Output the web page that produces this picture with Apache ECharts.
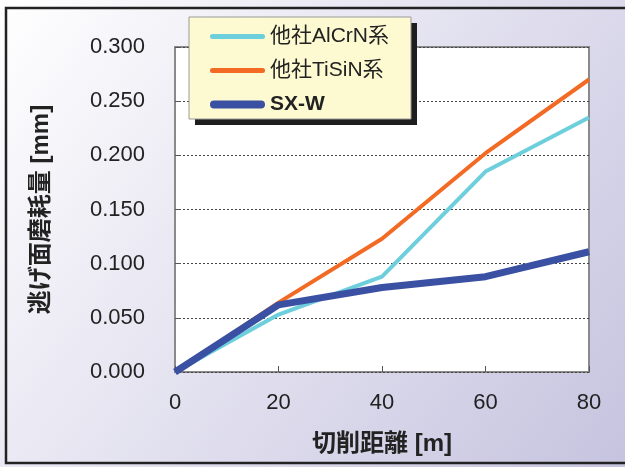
<!DOCTYPE html>
<html><head><meta charset="utf-8">
<script src="https://cdn.jsdelivr.net/npm/echarts@6/dist/echarts.min.js"></script>
<style>html,body{margin:0;padding:0;background:#fff}#c{width:625px;height:467px}</style>
</head><body><div id="c"></div>
<script>
const categories = [0, 20, 40, 60, 80];
const seriesNames = ['他社AlCrN系', '他社TiSiN系', 'SX-W'];
const alcrn = [0, 0.053, 0.088, 0.185, 0.235];
const tisin = [0, 0.064, 0.123, 0.202, 0.270];
const sxw = [0, 0.062, 0.078, 0.088, 0.111];
const yTicks = ['0.000','0.050','0.100','0.150','0.200','0.250','0.300'];
const colors = ['#6dcfdc', '#f26a24', '#3a50a2'];
const widths = [4, 4, 7];
const seriesData = [alcrn, tisin, sxw];

const font = '"Liberation Sans", "Noto Sans CJK JP", sans-serif';
const icons = [
  'path://M2.5,0 L52.5,0 A2.5,2.5 0 0 1 52.5,5 L2.5,5 A2.5,2.5 0 0 1 2.5,0 Z',
  'path://M2.5,0 L52.5,0 A2.5,2.5 0 0 1 52.5,5 L2.5,5 A2.5,2.5 0 0 1 2.5,0 Z',
  'path://M4,0 L51,0 A4,4 0 0 1 51,8 L4,8 A4,4 0 0 1 4,0 Z'
];
const chart = echarts.init(document.getElementById('c'));
chart.setOption({
  backgroundColor: new echarts.graphic.LinearGradient(0, 0, 1, 1, [
    {offset: 0, color: '#ffffff'}, {offset: 1, color: '#c6c3df'}
  ]),
  animation: false,
  textStyle: {fontFamily: font},
  grid: {left: 175, right: 36, top: 47, bottom: 95, show: true, backgroundColor: '#ffffff', borderColor: '#8a8a8a', borderWidth: 2},
  legend: {
    orient: 'vertical', left: 189, top: 17, z: 10,
    padding: [9, 10, 9, 21], itemGap: 13, itemWidth: 55, itemHeight: 14,
    textStyle: {fontSize: 21, color: '#222', fontFamily: font, padding: [0, 0, 0, 0]},
    data: seriesNames.map((n, i) => ({name: n, icon: icons[i], itemStyle: {color: colors[i]}, textStyle: i === 2 ? {fontWeight: 'bold'} : {}}))
  },
  xAxis: {
    type: 'value', min: 0, max: 80, interval: 20,
    name: '切削距離 [m]', nameLocation: 'middle', nameGap: 60,
    nameTextStyle: {fontSize: 24, fontWeight: 'bold', color: '#222', fontFamily: font},
    axisLine: {show: false},
    axisTick: {show: true, inside: true, length: 6, lineStyle: {color: '#555'}},
    axisLabel: {fontSize: 22, color: '#222', margin: 20},
    splitLine: {show: false}
  },
  yAxis: {
    type: 'value', min: 0, max: 0.3, interval: 0.05,
    name: '逃げ面磨耗量 [mm]', nameLocation: 'middle', nameGap: 122,
    nameTextStyle: {fontSize: 24, fontWeight: 'bold', color: '#222', fontFamily: font},
    axisLine: {show: false},
    axisTick: {show: true, inside: true, length: 6, lineStyle: {color: '#555'}},
    axisLabel: {fontSize: 22, color: '#222', margin: 30, formatter: (v) => yTicks[Math.round(v / 0.05)]},
    splitLine: {show: true, lineStyle: {type: [2, 2], color: '#444', width: 1}}
  },
  series: seriesNames.map((n, i) => ({
    name: n, type: 'line', symbol: 'none', z: i === 2 ? 4 : 3 - i,
    data: categories.map((c, j) => [c, seriesData[i][j]]),
    lineStyle: {color: colors[i], width: widths[i]},
    itemStyle: {color: colors[i]}
  })),
  graphic: [
    {type: 'rect', shape: {x: 195, y: 23, width: 222, height: 102}, style: {fill: '#1e1e1e'}, z: 8, silent: true},
    {type: 'rect', shape: {x: 189, y: 17, width: 222, height: 102}, style: {fill: '#fdfad2', stroke: '#9a9a9a', lineWidth: 1}, z: 9, silent: true},
    {type: 'rect', shape: {x: 6, y: 8, width: 640, height: 455}, style: {fill: 'none', stroke: '#222', lineWidth: 2.5}, z: 100, silent: true}
  ]
});
</script></body></html>
